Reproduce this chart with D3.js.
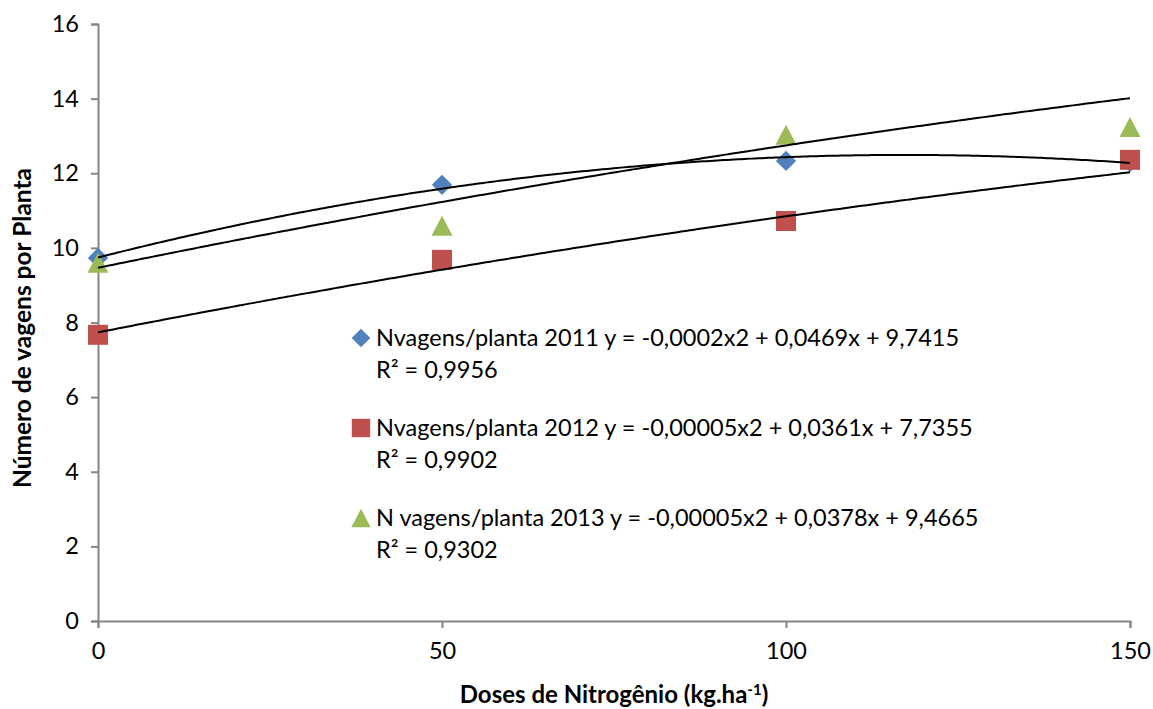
<!DOCTYPE html>
<html>
<head>
<meta charset="utf-8">
<script src="https://cdn.jsdelivr.net/npm/d3@7"></script>
<style>
  html, body { margin: 0; padding: 0; background: #fff; }
  svg { display: block; font-family: Lato, "Open Sans", sans-serif; }
</style>
</head>
<body>
<svg id="chart" width="1153" height="709"></svg>
<script>
// Doses de nitrogênio (kg/ha)
const doses = [0, 50, 100, 150];

// Número de vagens por planta, por ano
const vagens2011 = [9.73, 11.69, 12.33, 12.30];
const vagens2012 = [7.67, 9.68, 10.72, 12.36];
const vagens2013 = [9.60, 10.59, 13.03, 13.24];

// Coeficientes das linhas de tendência polinomial [a, b, c] : y = a·x² + b·x + c
const coef2011 = [-0.0002, 0.0469, 9.7415];
const coef2012 = [-0.00005, 0.0361, 7.7355];
const coef2013 = [-0.00005, 0.0378, 9.4665];

const seriesNames = ["Nvagens/planta 2011", "Nvagens/planta 2012", "N vagens/planta 2013"];
const equationLabels = [
  "y = -0,0002x2 + 0,0469x + 9,7415",
  "y = -0,00005x2 + 0,0361x + 7,7355",
  "y = -0,00005x2 + 0,0378x + 9,4665"
];
const r2Labels = ["R² = 0,9956", "R² = 0,9902", "R² = 0,9302"];

const xTicks = [0, 50, 100, 150];
const yTicks = [0, 2, 4, 6, 8, 10, 12, 14, 16];

const colors = ["#4F81BD", "#C0504D", "#9BBB59"];

const svg = d3.select("#chart");

const x = d3.scaleLinear().domain([0, 150]).range([98, 1130]);
const y = d3.scaleLinear().domain([0, 16]).range([621, 24]);

const axisColor = "#868686";
const tickFont = 23.5;

// Triângulo isósceles (base ≈ altura), como o marcador do Excel
const symbolTriangleWide = {
  draw(context, size) {
    const h = Math.sqrt(size * 2);
    context.moveTo(0, -h / 2);
    context.lineTo(h / 2 * 1.05, h / 2);
    context.lineTo(-h / 2 * 1.05, h / 2);
    context.closePath();
  }
};

// Marcadores: losango (quadrado girado), quadrado e triângulo
function marker(g, i, scale) {
  if (i === 0) {
    g.append("path")
      .attr("d", d3.symbol().type(d3.symbolSquare).size(205 * scale)())
      .attr("transform", "rotate(45)");
  } else if (i === 1) {
    g.append("path").attr("d", d3.symbol().type(d3.symbolSquare).size(400 * scale)());
  } else {
    g.append("path").attr("d", d3.symbol().type(symbolTriangleWide).size(200 * scale)());
  }
  g.attr("fill", colors[i]);
}

// Eixo Y
const yAxis = svg.append("g")
  .attr("transform", `translate(${x(0)},0)`)
  .call(d3.axisLeft(y).tickValues(yTicks).tickSize(7).tickPadding(12).tickFormat(d3.format("d")));
yAxis.select(".domain").attr("stroke", axisColor).attr("stroke-width", 2);
yAxis.selectAll(".tick line").attr("stroke", axisColor).attr("stroke-width", 2);
yAxis.selectAll(".tick text").attr("font-size", tickFont).attr("fill", "#000")
  .attr("font-family", "Lato, sans-serif");

// Eixo X
const xAxis = svg.append("g")
  .attr("transform", `translate(0,${y(0)})`)
  .call(d3.axisBottom(x).tickValues(xTicks).tickSize(7).tickPadding(14).tickFormat(d3.format("d")));
xAxis.select(".domain").attr("stroke", axisColor).attr("stroke-width", 2);
xAxis.selectAll(".tick line").attr("stroke", axisColor).attr("stroke-width", 2);
xAxis.selectAll(".tick text").attr("font-size", tickFont).attr("fill", "#000")
  .attr("font-family", "Lato, sans-serif");

// Pontos observados
const seriesData = [vagens2011, vagens2012, vagens2013];
seriesData.forEach((vals, i) => {
  svg.append("g").selectAll("g")
    .data(vals.map((v, j) => ({ dose: doses[j], v })))
    .join("g")
    .attr("transform", d => `translate(${x(d.dose)},${y(d.v)})`)
    .each(function () { marker(d3.select(this), i, 1); });
});

// Linhas de tendência polinomial
const coefs = [coef2011, coef2012, coef2013];
const line = d3.line().x(d => x(d[0])).y(d => y(d[1])).curve(d3.curveMonotoneX);
coefs.forEach(c => {
  const pts = d3.range(0, 150.01, 1).map(xv => [xv, c[0] * xv * xv + c[1] * xv + c[2]]);
  svg.append("path")
    .attr("d", line(pts))
    .attr("fill", "none")
    .attr("stroke", "#000")
    .attr("stroke-width", 2);
});

// Legenda
const legend = svg.append("g");
const rowY = [338, 428, 518];
seriesNames.forEach((name, i) => {
  const m = legend.append("g").attr("transform", `translate(361,${rowY[i]})`);
  marker(m, i, 0.85);
  legend.append("text")
    .attr("x", 376).attr("y", rowY[i] + 8)
    .attr("font-size", tickFont)
    .text(`${name} ${equationLabels[i]}`);
  legend.append("text")
    .attr("x", 376).attr("y", rowY[i] + 40)
    .attr("font-size", tickFont)
    .text(r2Labels[i]);
});

// Títulos dos eixos
const xTitle = svg.append("text")
  .attr("x", 614).attr("y", 703)
  .attr("text-anchor", "middle")
  .attr("font-size", 24).attr("font-weight", "bold");
xTitle.append("tspan").text("Doses de Nitrogênio (kg.ha");
xTitle.append("tspan").attr("dy", -8).attr("font-size", 15).text("-1");
xTitle.append("tspan").attr("dy", 8).text(")");

svg.append("text")
  .attr("transform", "translate(31,328) rotate(-90)")
  .attr("text-anchor", "middle")
  .attr("font-size", 24.5).attr("font-weight", "bold")
  .text("Número de vagens por Planta");
</script>
</body>
</html>
